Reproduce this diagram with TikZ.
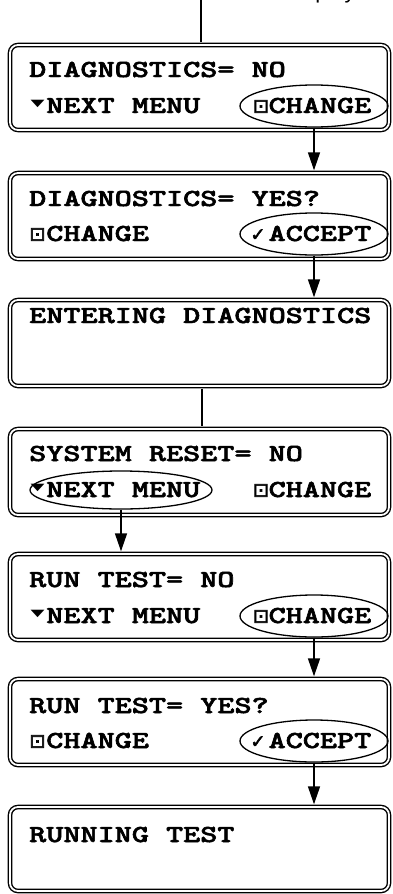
\documentclass[tikz,border=0pt]{standalone}
\usepackage{fontspec}
\usepackage{graphicx}
\usetikzlibrary{arrows.meta,shapes.geometric}
\newfontfamily\symfont{DejaVu Sans}
\newfontfamily\symbold[FakeBold=3]{DejaVu Sans}
\newfontfamily\capfont{Liberation Sans}
\newfontfamily\lcdfont[FakeBold=2]{lmmonolt10-bold.otf}
\newcommand{\lcd}[1]{\scalebox{1.33}[1]{\fontsize{24.5}{24.5}\selectfont\lcdfont #1}}
\newcommand{\tri}{\scalebox{1.3}[0.7]{\symfont\fontsize{14}{14}\selectfont ▼}}
\newcommand{\sq}{{\symbold\fontsize{19}{19}\selectfont ⊡}}
\newcommand{\chk}{{\symbold\fontsize{18}{18}\selectfont ✓}}
\tikzset{
  lcdbox/.style={draw, line width=1.4pt, double=white, double distance=1.8pt,
    rounded corners=8pt, minimum width=379pt, minimum height=86pt, inner sep=0pt},
  txt/.style={anchor=base west, inner sep=0pt},
  sym/.style={anchor=center, inner sep=0pt},
  oval/.style={draw, ellipse, line width=1.3pt, minimum width=148pt, minimum height=42pt, inner sep=0pt},
  conn/.style={line width=1.5pt},
  arr/.style={conn, -{Triangle[length=18pt,width=12pt]}, shorten >=2pt},
}
\begin{document}
\begin{tikzpicture}[x=1pt,y=-1pt]
\useasboundingbox (0,0) rectangle (392,894);
\begin{scope}
\clip (0,0) rectangle (392,894);
\node[anchor=base west, inner sep=0pt] (cap) at (287,-1.5) {\capfont\fontsize{22}{22}\selectfont display};
\end{scope}

% boxes
\node[lcdbox] (b1) at (199.5,87.5) [minimum height=85pt] {};
\node[lcdbox] (b2) at (199.5,216) {};
\node[lcdbox] (b3) at (199.5,343) {};
\node[lcdbox] (b4) at (199.5,472) {};
\node[lcdbox] (b5) at (199.5,597) {};
\node[lcdbox] (b6) at (199.5,722) {};
\node[lcdbox] (b7) at (199.5,849) [minimum height=84pt] {};

% box 1
\node[txt] (t1a) at (29,77) {\lcd{DIAGNOSTICS= NO}};
\node[sym] (t1s) at (37.5,103.5) {\tri};
\node[txt] (t1b) at (46.1,113) {\lcd{NEXT MENU}};
\node[sym] (t1q) at (261,106.5) {\sq};
\node[txt] (t1c) at (268.4,113) {\lcd{CHANGE}};
\node[oval] (e1) at (314,106) {};

% box 2
\node[txt] (t2a) at (29,206) {\lcd{DIAGNOSTICS= YES?}};
\node[sym] (t2q) at (37.5,234.5) {\sq};
\node[txt] (t2b) at (46.1,241) {\lcd{CHANGE}};
\node[sym] (t2k) at (258,235) {\chk};
\node[txt] (t2c) at (268.4,241) {\lcd{ACCEPT}};
\node[oval] (e2) at (314,234) {};

% box 3
\node[txt] (t3a) at (29,323) {\lcd{ENTERING DIAGNOSTICS}};

% box 4
\node[txt] (t4a) at (29,461) {\lcd{SYSTEM RESET= NO}};
\node[sym] (t4s) at (37.5,487.5) {\tri};
\node[txt] (t4b) at (46.1,497) {\lcd{NEXT MENU}};
\node[sym] (t4q) at (261,490.5) {\sq};
\node[txt] (t4c) at (268.4,497) {\lcd{CHANGE}};
\node[oval, minimum width=182pt, minimum height=38pt] (e4) at (121,490) {};

% box 5
\node[txt] (t5a) at (29,587) {\lcd{RUN TEST= NO}};
\node[sym] (t5s) at (37.5,613.5) {\tri};
\node[txt] (t5b) at (46.1,623) {\lcd{NEXT MENU}};
\node[sym] (t5q) at (261,616.5) {\sq};
\node[txt] (t5c) at (268.4,623) {\lcd{CHANGE}};
\node[oval] (e5) at (314,616) {};

% box 6
\node[txt] (t6a) at (29,713) {\lcd{RUN TEST= YES?}};
\node[sym] (t6q) at (37.5,741.5) {\sq};
\node[txt] (t6b) at (46.1,748) {\lcd{CHANGE}};
\node[sym] (t6k) at (258,742) {\chk};
\node[txt] (t6c) at (268.4,748) {\lcd{ACCEPT}};
\node[oval] (e6) at (314,741) {};

% box 7
\node[txt] (t7a) at (29,842) {\lcd{RUNNING TEST}};

% connectors
\coordinate (top) at (201,0);
\draw[conn, shorten >=2pt] (top) -- (top |- b1.north);
\draw[arr] (e1.south) -- (e1.south |- b2.north);
\draw[arr] (e2.south) -- (e2.south |- b3.north);
\draw[conn, shorten <=2pt, shorten >=2pt] ([xshift=2.5pt]b3.south) -- ([xshift=2.5pt]b4.north);
\draw[arr] (e4.south) -- (e4.south |- b5.north);
\draw[arr] (e5.south) -- (e5.south |- b6.north);
\draw[arr] (e6.south) -- (e6.south |- b7.north);
\end{tikzpicture}
\end{document}
